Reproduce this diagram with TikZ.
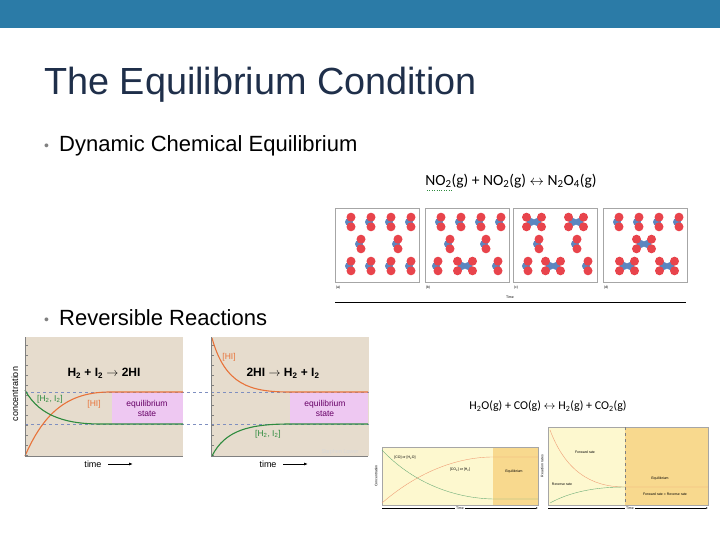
\documentclass[tikz,border=0pt]{standalone}
\usepackage{fontspec}
\setmainfont{Liberation Sans}
\newfontfamily\calfont{Carlito}
\usetikzlibrary{arrows.meta}
\definecolor{bar}{HTML}{2B7BA7}
\definecolor{ttl}{HTML}{1F2F4A}
\definecolor{beige}{HTML}{E6DCCD}
\definecolor{pinkst}{HTML}{EEC8F2}
\definecolor{orng}{HTML}{E8733A}
\definecolor{grn}{HTML}{2E8B3E}
\definecolor{dsh}{HTML}{7F8FC0}
\definecolor{lyel}{HTML}{FDF8CF}
\definecolor{dyel}{HTML}{F8D98E}
\definecolor{redat}{HTML}{E8444C}
\definecolor{blat}{HTML}{5B86C0}
\tikzset{
 panel/.style={draw=gray!70,line width=0.5pt,fill=white},
 bul/.style={anchor=base west,font=\fontsize{22}{26}\selectfont},
 eq/.style={font=\calfont\fontsize{15.5}{18}\selectfont},
 tiny/.style={font=\fontsize{3.5}{4}\selectfont,inner sep=0pt},
 rx/.style={font=\bfseries\fontsize{12}{14}\selectfont},
 lab/.style={font=\fontsize{8.5}{10}\selectfont},
 ax/.style={-{Latex[length=4pt]},line width=0.9pt},
 no2/.pic={\fill[blat] (0,0) circle (4); \fill[redat] (2,-4.8) circle (4.5); \fill[redat] (2,4.8) circle (4.5);},
 dim/.pic={\fill[blat] (-3.2,0) circle (4); \fill[blat] (3.2,0) circle (4);
   \fill[redat] (-7.5,-4.8) circle (4.5); \fill[redat] (-7.5,4.8) circle (4.5);
   \fill[redat] (7.5,-4.8) circle (4.5); \fill[redat] (7.5,4.8) circle (4.5);}
}
\begin{document}
\begin{tikzpicture}[x=1pt,y=-1pt]
\useasboundingbox (0,0) rectangle (720,540);
\fill[white] (0,0) rectangle (720,540);
\fill[bar] (0,0) rectangle (720,28);
\node[anchor=base west,text=ttl,font=\fontsize{37.8}{44}\selectfont,inner sep=0] (title) at (44,95) {The Equilibrium Condition};
\node[anchor=base west,text=gray,font=\fontsize{14}{16}\selectfont,inner sep=0] (d1) at (44,151) {•};
\node[bul,inner sep=0] (b1) at (59,152) {Dynamic Chemical Equilibrium};
\node[anchor=base west,text=gray,font=\fontsize{14}{16}\selectfont,inner sep=0] (d2) at (44,324) {•};
\node[bul,inner sep=0] (b2) at (59,325) {Reversible Reactions};
% NO2 equation
\node[eq] (eq1) at (511,181) {NO\textsubscript{2}(g) + NO\textsubscript{2}(g) $\leftrightarrow$ N\textsubscript{2}O\textsubscript{4}(g)};
\draw[grn,dotted] (427,190) -- (452,190);
% molecule panels
\foreach \x/\n in {335/a,425/b,513/c,603/d}{
  \draw[panel] (\x,208) rectangle ++(84,74);
  \node[tiny] at (\x+3,288) {(\n)};
}
\node[tiny] (time1) at (510,297) {Time};
\draw[line width=0.6pt] (335,302) -- (686,302);
% panel a
\foreach \x in {349,369,389,409}{\pic at (\x,222) {no2}; \pic at (\x,266) {no2};}
\pic at (359,244) {no2}; \pic at (396,244) {no2};
% panel b
\foreach \x in {439,459,479,499}{\pic at (\x,222) {no2};}
\pic at (448,244) {no2}; \pic at (484,244) {no2};
\pic at (436,266) {no2}; \pic at (465,266) {dim}; \pic at (496,266) {no2};
% panel c
\pic at (534,222) {dim}; \pic at (576,222) {dim};
\pic at (537,244) {no2}; \pic at (575,244) {no2};
\pic at (526,266) {no2}; \pic at (553,266) {dim}; \pic at (586,266) {no2};
% panel d
\foreach \x in {617,637,657,677}{\pic at (\x,222) {no2};}
\pic at (644,244) {dim};
\pic at (627,266) {dim}; \pic at (667,266) {dim};
% HI graphs
\foreach \x in {25,211}{\fill[beige] (\x,337) rectangle ++(158,119);
  \foreach \t in {0,1,...,11}{\draw[gray,line width=0.3pt] (\x,345+\t*10) -- ++(3,0);}}
\fill[pinkst] (112,392) rectangle (183,424);
\fill[pinkst] (290,392) rectangle (368,424);
\draw[dsh,dashed,line width=0.7pt] (25,392) -- (369,392);
\draw[dsh,dashed,line width=0.7pt] (25,424) -- (369,424);
\draw[orng,line width=1.1pt] (25,456) .. controls (45,410) and (70,392) .. (110,392) -- (183,392);
\draw[grn,line width=1.1pt] (25,390) .. controls (40,418) and (70,424) .. (100,424) -- (183,424);
\draw[orng,line width=1.1pt] (212,338) .. controls (225,385) and (250,392) .. (290,392) -- (368,392);
\draw[grn,line width=1.1pt] (212,456) .. controls (225,430) and (250,424) .. (290,424) -- (368,424);
\draw[gray,line width=0.5pt] (25,337) -- (25,456) -- (183,456);
\draw[gray,line width=0.5pt] (211,337) -- (211,456) -- (368,456);
\node[rx] (r1) at (104,373) {H\textsubscript{2} + I\textsubscript{2} $\rightarrow$ 2HI};
\node[rx] (r2) at (283,373) {2HI $\rightarrow$ H\textsubscript{2} + I\textsubscript{2}};
\node[lab,text=grn] (g1) at (50,399) {[H\textsubscript{2}, I\textsubscript{2}]};
\node[lab,text=orng] (o1) at (94,404) {[HI]};
\node[lab,text=orng] (o2) at (229,357) {[HI]};
\node[lab,text=grn] (g2) at (268,434) {[H\textsubscript{2}, I\textsubscript{2}]};
\node[lab,text=violet!80!black,align=center] (s1) at (147,408) {equilibrium\\state};
\node[lab,text=violet!80!black,align=center] (s2) at (325,408) {equilibrium\\state};
\node[font=\fontsize{5.5}{6}\selectfont,text=white!85!black] (sl) at (340,452) {Stephen Lower};
\node[lab,rotate=90,font=\fontsize{9}{10}\selectfont] (conc) at (15,394) {concentration};
\node[lab,font=\fontsize{9}{10}\selectfont] (t1) at (93,464) {time};
\draw[ax] (108,464) -- (133,464);
\node[lab,font=\fontsize{9}{10}\selectfont] (t2) at (268,464) {time};
\draw[ax] (283,464) -- (308,464);
% water gas graphs
\node[font=\calfont\fontsize{12}{14}\selectfont] (eq2) at (548,406) {H\textsubscript{2}O(g) + CO(g) $\leftrightarrow$ H\textsubscript{2}(g) + CO\textsubscript{2}(g)};
\fill[lyel] (382,447) rectangle (493,505);
\fill[dyel] (493,447) rectangle (538,505);
\draw[gray!70,line width=0.4pt] (382,447) rectangle (538,505);
\draw[orng!70,line width=0.4pt] (382,503) .. controls (420,470) and (460,457) .. (493,457) -- (538,457);
\draw[grn!70,line width=0.4pt] (382,450) .. controls (410,480) and (450,498) .. (493,499) -- (538,499);
\node[tiny] at (405,458) {[CO] or [H\textsubscript{2}O]};
\node[tiny] at (460,470) {[CO\textsubscript{2}] or [H\textsubscript{2}]};
\node[tiny] at (514,472) {Equilibrium};
\node[tiny,rotate=90] at (376,476) {Concentration};
\draw[-{Latex[length=2pt]},line width=0.4pt] (382,508) -- (538,508);
\node[tiny,fill=white,inner sep=1pt] at (460,508) {Time};
\fill[lyel] (548,427) rectangle (625,505);
\fill[dyel] (625,427) rectangle (708,505);
\draw[gray!70,line width=0.4pt] (548,427) rectangle (708,505);
\draw[dashed,gray,line width=0.4pt] (625,427) -- (625,505);
\draw[orng!70,line width=0.4pt] (550,430) .. controls (565,470) and (590,487) .. (625,487) -- (708,487);
\draw[grn!70,line width=0.4pt] (550,503) .. controls (570,492) and (595,487) .. (625,487);
\node[tiny] at (585,452) {Forward rate};
\node[tiny] at (562,484) {Reverse rate};
\node[tiny] at (660,479) {Equilibrium};
\node[tiny] at (665,494) {Forward rate = Reverse rate};
\node[tiny,rotate=90] at (542,466) {Reaction rates};
\draw[-{Latex[length=2pt]},line width=0.4pt] (548,508) -- (708,508);
\node[tiny,fill=white,inner sep=1pt] at (630,508) {Time};
\end{tikzpicture}
\end{document}
